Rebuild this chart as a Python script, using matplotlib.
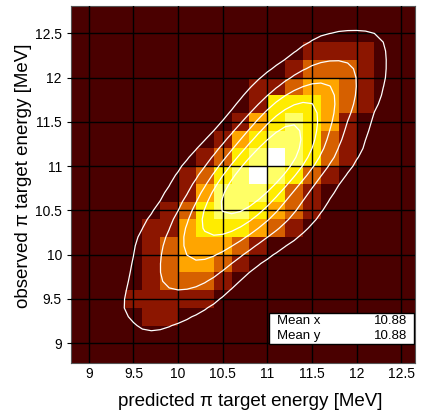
import numpy as np
import matplotlib
matplotlib.use("Agg")
import matplotlib.pyplot as plt
from matplotlib.colors import ListedColormap, BoundaryNorm
from matplotlib.patches import Rectangle

plt.rcParams['font.family'] = ['Liberation Sans', 'DejaVu Sans']

# Bin layout: 0.2 MeV bins starting at 8.8 MeV
x_edges = np.round(np.arange(8.8, 12.81, 0.2), 2)
y_edges = np.round(np.arange(8.8, 12.81, 0.2), 2)

# Occupancy level per bin, rows listed from top (y = 12.2..12.4) to bottom (y = 9.2..9.4)
# columns: x = 9.4, 9.6, ..., 12.0 (lower bin edge)
col_lo = 9.4
row_hi = 12.2
levels_rows = [
    # 9.4 9.6 9.8 10.0 10.2 10.4 10.6 10.8 11.0 11.2 11.4 11.6 11.8 12.0
    [0, 0, 0, 0, 0, 0, 0, 0, 0, 0, 1, 1, 1, 1],   # 12.2
    [0, 0, 0, 0, 0, 0, 0, 0, 0, 1, 2, 2, 2, 1],   # 12.0
    [0, 0, 0, 0, 0, 0, 0, 1, 1, 2, 3, 3, 2, 1],   # 11.8
    [0, 0, 0, 0, 0, 0, 0, 1, 4, 4, 4, 3, 2, 1],   # 11.6
    [0, 0, 0, 0, 0, 0, 1, 3, 4, 5, 4, 3, 1, 0],   # 11.4
    [0, 0, 0, 0, 0, 1, 3, 4, 5, 5, 4, 2, 1, 0],   # 11.2
    [0, 0, 0, 0, 1, 2, 4, 5, 6, 5, 4, 2, 1, 0],   # 11.0
    [0, 0, 0, 1, 2, 4, 5, 6, 5, 4, 2, 1, 0, 0],   # 10.8
    [0, 0, 0, 1, 3, 5, 5, 5, 4, 2, 1, 0, 0, 0],   # 10.6
    [0, 0, 1, 2, 4, 5, 5, 4, 3, 2, 1, 0, 0, 0],   # 10.4
    [0, 1, 1, 3, 4, 4, 4, 3, 2, 1, 0, 0, 0, 0],   # 10.2
    [0, 1, 2, 3, 3, 3, 2, 1, 0, 0, 0, 0, 0, 0],   # 10.0
    [0, 1, 2, 3, 3, 2, 1, 0, 0, 0, 0, 0, 0, 0],   # 9.8
    [0, 1, 2, 2, 2, 1, 0, 0, 0, 0, 0, 0, 0, 0],   # 9.6
    [1, 1, 1, 1, 1, 0, 0, 0, 0, 0, 0, 0, 0, 0],   # 9.4
    [0, 1, 1, 0, 0, 0, 0, 0, 0, 0, 0, 0, 0, 0],   # 9.2
]

x_ticks = [9, 9.5, 10, 10.5, 11, 11.5, 12, 12.5]
y_ticks = [9, 9.5, 10, 10.5, 11, 11.5, 12, 12.5]
tick_labels = ["9", "9.5", "10", "10.5", "11", "11.5", "12", "12.5"]

mean_x = "10.88"
mean_y = "10.88"

palette = ["#4a0000", "#8c1600", "#d66000", "#ffa500", "#ffec00", "#ffff66", "#ffffff"]

# full histogram array on the bin grid
nx = len(x_edges) - 1
ny = len(y_edges) - 1
H = np.zeros((ny, nx))
c0 = int(round((col_lo - 8.8) / 0.2))
for k, row in enumerate(levels_rows):
    r = int(round((row_hi - 8.8) / 0.2)) - k
    for j, v in enumerate(row):
        H[r, c0 + j] = v

fig = plt.figure(figsize=(4.25, 4.16), dpi=100)
ax = fig.add_axes([0.167, 0.128, 0.8106, 0.858])
ax.set_facecolor(palette[0])

cmap = ListedColormap(palette)
norm = BoundaryNorm(np.arange(-0.5, 7.0, 1.0), cmap.N)
ax.pcolormesh(x_edges, y_edges, H, cmap=cmap, norm=norm, zorder=1)

# smoothed density from the binned data (kernel stretched along the diagonal)
xc = 0.5 * (x_edges[:-1] + x_edges[1:])
yc = 0.5 * (y_edges[:-1] + y_edges[1:])
gx = np.arange(8.8, 12.81, 0.1)
gy = np.arange(8.8, 12.81, 0.1)
GX, GY = np.meshgrid(gx, gy)
W = H ** 1.5
s_along, s_across = 0.27, 0.12
D = np.zeros_like(GX)
for i in range(ny):
    for j in range(nx):
        if W[i, j] > 0:
            dx = GX - xc[j]
            dy = GY - yc[i]
            u = (dx + dy) / np.sqrt(2)
            v = (dy - dx) / np.sqrt(2)
            D += W[i, j] * np.exp(-(u * u / (2 * s_along ** 2) + v * v / (2 * s_across ** 2)))
D /= D.max()
ax.contour(GX, GY, D, levels=[0.03, 0.18, 0.38, 0.58, 0.78], colors="white",
           linewidths=0.9, zorder=3)

ax.set_xlim(8.8, 12.66)
ax.set_ylim(8.78, 12.81)
ax.set_xticks(x_ticks)
ax.set_xticklabels(tick_labels)
ax.set_yticks(y_ticks)
ax.set_yticklabels(tick_labels)
ax.grid(True, color="black", linewidth=1.0, zorder=2)
ax.set_axisbelow(False)
ax.tick_params(axis="both", direction="out", width=0.8, labelsize=10, colors="black")
ax.tick_params(axis="y", length=3, pad=3.5)
ax.tick_params(axis="x", length=0, pad=3.1)
for sp in ax.spines.values():
    sp.set_linewidth(0.8)
    sp.set_color("#555555")

ax.set_xlabel("predicted \u03c0 target energy [MeV]", fontsize=13.5)
ax.set_ylabel("observed \u03c0 target energy [MeV]", fontsize=13.5)
ax.xaxis.set_label_coords(0.52, -0.085)
ax.yaxis.set_label_coords(-0.113, 0.523)

# statistics box
bx0, by0, bw, bh = 0.5756, 0.052, 0.421, 0.088
ax.add_patch(Rectangle((bx0, by0), bw, bh, transform=ax.transAxes,
                       facecolor="white", edgecolor="black", linewidth=1.0, zorder=5))
ax.text(bx0 + 0.022, by0 + 0.066, "Mean x", transform=ax.transAxes, fontsize=9.5,
        va="center", ha="left", zorder=6)
ax.text(bx0 + bw - 0.022, by0 + 0.066, mean_x, transform=ax.transAxes, fontsize=9.5,
        va="center", ha="right", zorder=6)
ax.text(bx0 + 0.022, by0 + 0.024, "Mean y", transform=ax.transAxes, fontsize=9.5,
        va="center", ha="left", zorder=6)
ax.text(bx0 + bw - 0.022, by0 + 0.024, mean_y, transform=ax.transAxes, fontsize=9.5,
        va="center", ha="right", zorder=6)

fig.savefig("out.png", dpi=100)
